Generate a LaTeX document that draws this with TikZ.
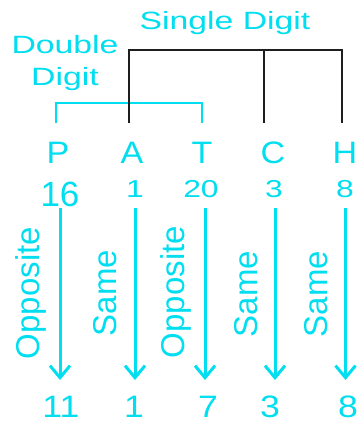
\documentclass[tikz,border=0pt]{standalone}
\usepackage{fontspec}
\setmainfont{Liberation Sans}
\usetikzlibrary{arrows.meta}
\definecolor{cy}{RGB}{0,222,240}
\definecolor{brk}{RGB}{30,30,30}
\begin{document}
\begin{tikzpicture}[x=1pt,y=-1pt,
  lbl/.style={font=\fontsize{25}{30}\selectfont, text=cy, inner sep=0pt, anchor=base, xscale=1.35},
  ltr/.style={font=\fontsize{31}{36}\selectfont, text=cy, inner sep=0pt, anchor=base, xscale=1.1},
  topnum/.style={font=\fontsize{24.5}{30}\selectfont, text=cy, inner sep=0pt, anchor=base, xscale=1.3},
  bignum/.style={font=\fontsize{35}{40}\selectfont, text=cy, inner sep=0pt, anchor=base},
  botnum/.style={font=\fontsize{31}{36}\selectfont, text=cy, inner sep=0pt, anchor=base, xscale=1.15},
  rel/.style={font=\fontsize{33}{38}\selectfont, text=cy, inner sep=0pt, rotate=90},
  flow/.style={draw=cy, line width=3pt, -{Straight Barb[length=12pt,width=20pt]}},
  digbrk/.style={draw=brk, line width=2.6pt},
  dblbrk/.style={draw=cy, line width=2.4pt}]
\useasboundingbox (0,0) rectangle (358,423);

% group labels
\node[lbl] (single) at (225,29) {Single Digit};
\node[lbl] (double) at (65,53) {Double};
\node[lbl] (digit)  at (65,85) {Digit};

% letters
\node[ltr] (P) at (58,163) {P};
\node[ltr] (A) at (132,163) {A};
\node[ltr] (T) at (202,163) {T};
\node[ltr] (C) at (273,163) {C};
\node[ltr] (H) at (345,163) {H};

% alphabet positions
\node[bignum] (nP) at (60,206) {16};
\node[topnum] (nA) at (135,197) {1};
\node[topnum] (nT) at (201,197) {20};
\node[topnum] (nC) at (274,197) {3};
\node[topnum] (nH) at (345,197) {8};

% coded values
\node[botnum] (rP) at (61,417) {11};
\node[botnum] (rA) at (134,417) {1};
\node[botnum] (rT) at (208,417) {7};
\node[botnum] (rC) at (270,417) {3};
\node[botnum] (rH) at (348,417) {8};

% rule labels
\node[rel] (oP) at (31,293) {Opposite};
\node[rel] (sA) at (105,293) {Same};
\node[rel] (oT) at (176,292) {Opposite};
\node[rel] (sC) at (246,294) {Same};
\node[rel] (sH) at (316,294) {Same};

% arrow ends
\foreach \k/\x in {1/60,2/135,3/205,4/275,5/345.5}{
  \coordinate (s\k) at (\x,208);
  \coordinate (e\k) at (\x,380);
}
\foreach \k in {1,...,5}{ \draw[flow] (s\k) -- (e\k); }

% double digit bracket
\coordinate (d1) at (56,123);
\coordinate (d2) at (56,103);
\coordinate (d3) at (202,103);
\coordinate (d4) at (202,123);
\draw[dblbrk] (d1) -- (d2) -- (d3) -- (d4);

% single digit bracket
\coordinate (b1) at (129,123);
\coordinate (b2) at (129,50);
\coordinate (b3) at (342,50);
\coordinate (b4) at (342,123);
\coordinate (b5) at (264,50);
\coordinate (b6) at (264,123);
\draw[digbrk] (b1) -- (b2) -- (b3) -- (b4);
\draw[digbrk] (b5) -- (b6);
\end{tikzpicture}
\end{document}
